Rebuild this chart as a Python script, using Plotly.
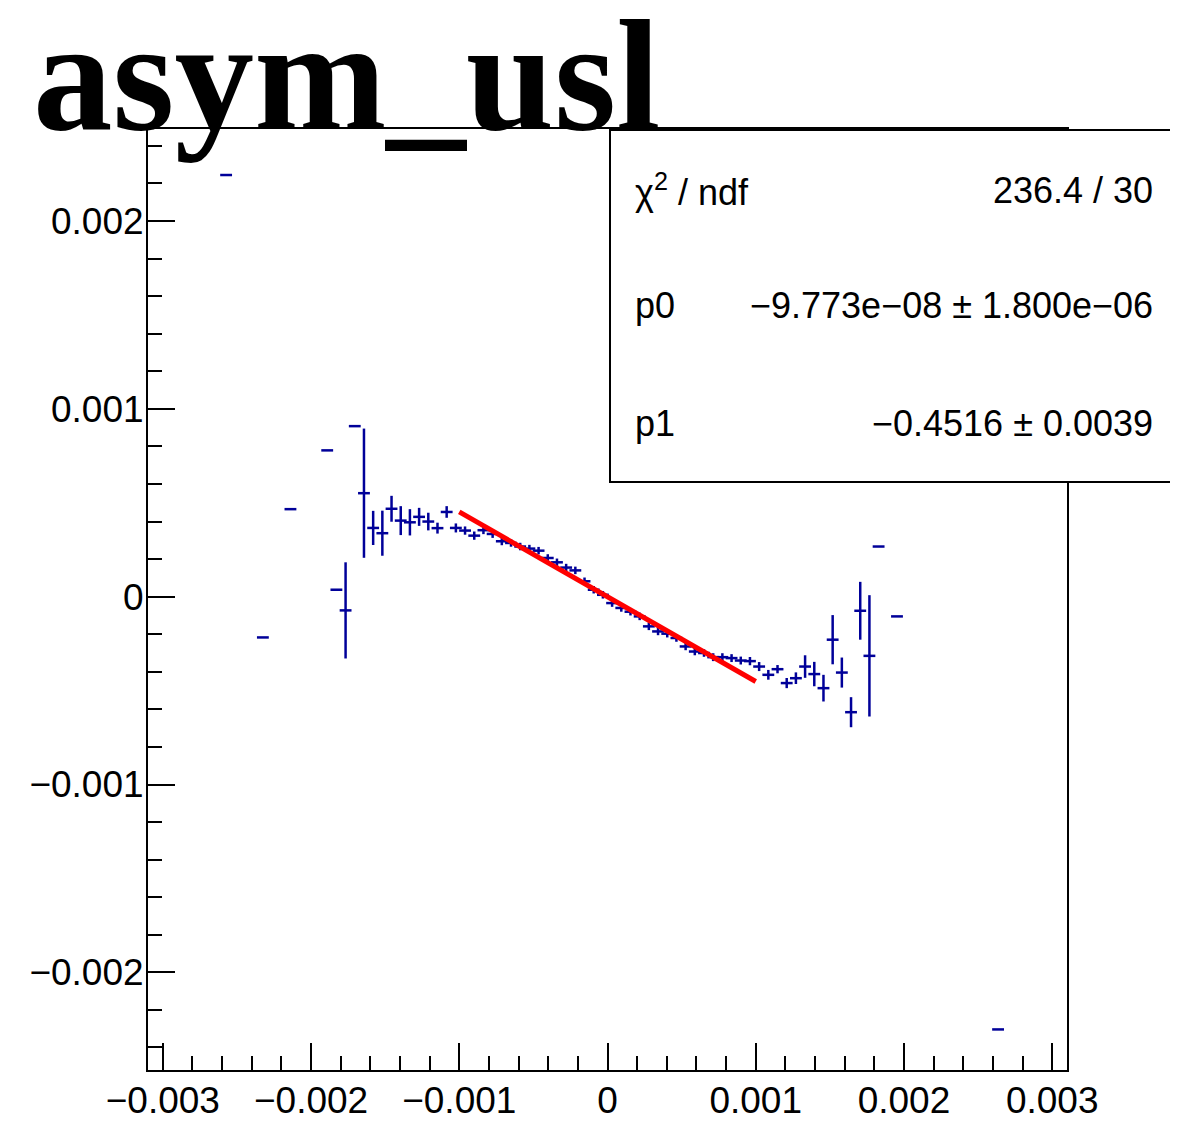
import plotly.graph_objects as go

# ------------------------------------------------------------------ #
# Data (bin centres, contents, errors)
# ------------------------------------------------------------------ #
BIN_X = [
    -0.002573, -0.002325, -0.002139, -0.001891, -0.001829, -0.001767,
    -0.001705, -0.001643, -0.001581, -0.001519, -0.001457, -0.001395,
    -0.001333, -0.001271, -0.001209, -0.001147, -0.001085, -0.001023,
    -0.000961, -0.000899, -0.000837, -0.000775, -0.000713, -0.000651,
    -0.000589, -0.000527, -0.000465, -0.000403, -0.000341, -0.000279,
    -0.000217, -0.000155, -0.000093, -0.000031, 0.000031, 0.000093,
    0.000155, 0.000217, 0.000279, 0.000341, 0.000403, 0.000465,
    0.000527, 0.000589, 0.000651, 0.000713, 0.000775, 0.000837,
    0.000899, 0.000961, 0.001023, 0.001085, 0.001147, 0.001209,
    0.001271, 0.001333, 0.001395, 0.001457, 0.001519, 0.001581,
    0.001643, 0.001705, 0.001767, 0.001829, 0.001953, 0.002635,
]
BIN_Y = [
    0.002245, -0.000217, 0.000466, 0.000779, 0.000037, -0.000073,
    0.000908, 0.000551, 0.000366, 0.000338, 0.000468, 0.000405,
    0.000396, 0.000425, 0.000400, 0.000365, 0.000451, 0.000366,
    0.000352, 0.000325, 0.000354, 0.000334, 0.000295, 0.000286,
    0.000267, 0.000256, 0.000245, 0.000206, 0.000183, 0.000155,
    0.000140, 0.000082, 0.000037, 0.000010, -0.000034, -0.000060,
    -0.000080, -0.000105, -0.000158, -0.000185, -0.000197, -0.000220,
    -0.000265, -0.000292, -0.000300, -0.000322, -0.000322, -0.000327,
    -0.000340, -0.000343, -0.000372, -0.000416, -0.000386, -0.000460,
    -0.000434, -0.000372, -0.000412, -0.000487, -0.000229, -0.000404,
    -0.000615, -0.000075, -0.000315, 0.000267, -0.000105, -0.002304,
]
BIN_ERR = [
    0.0, 0.0, 0.0, 0.0, 0.0, 0.000256,
    0.0, 0.000344, 0.000091, 0.000120, 0.000069, 0.000077,
    0.000070, 0.000048, 0.000047, 0.000029, 0.000031, 0.000024,
    0.000022, 0.000022, 0.000021, 0.000021, 0.000021, 0.000020,
    0.000020, 0.000020, 0.000020, 0.000020, 0.000020, 0.000020,
    0.000020, 0.000020, 0.000020, 0.000020, 0.000020, 0.000020,
    0.000020, 0.000020, 0.000020, 0.000020, 0.000020, 0.000020,
    0.000020, 0.000020, 0.000020, 0.000021, 0.000021, 0.000021,
    0.000021, 0.000022, 0.000024, 0.000026, 0.000022, 0.000027,
    0.000031, 0.000060, 0.000065, 0.000071, 0.000131, 0.000080,
    0.000080, 0.000154, 0.000323, 0.0, 0.0, 0.0,
]

FIT_RANGE = [-0.001, 0.001]
P0 = -9.773e-08
P1 = -0.4516

STATS_ROWS = [
    ("χ<sup>2</sup> / ndf", "236.4 / 30"),
    ("p0", "−9.773e−08 ± 1.800e−06"),
    ("p1", "−0.4516 ± 0.0039"),
]

X_RANGE = [-0.0031, 0.0031]
Y_RANGE = [-0.00252, 0.00249]

# ------------------------------------------------------------------ #
# Style tokens
# ------------------------------------------------------------------ #
PAGE_PAD = 8                     # browser body margin
W, H = 1178 - PAGE_PAD, 1124 - PAGE_PAD
FRAME = dict(l=148, r=1067, t=129, b=1070)   # page pixels
BAR_HALF = 0.000040              # drawn half-length of the horizontal bin bars
NAVY = "#000099"
RED = "#FF0000"
INK = "#000000"
SANS = "Liberation Sans, Arial, sans-serif"
SERIF = "Liberation Serif, Times New Roman, serif"


def px_x(p):
    return (p - FRAME["l"]) / (FRAME["r"] - FRAME["l"])


def px_y(p):
    return (FRAME["b"] - p) / (FRAME["b"] - FRAME["t"])


fig = go.Figure()

fig.add_trace(go.Scatter(
    x=BIN_X, y=BIN_Y, mode="markers",
    marker=dict(size=1, color=NAVY, opacity=0),
    error_y=dict(type="data", array=BIN_ERR, visible=True,
                 thickness=2.5, width=0, color=NAVY),
    error_x=dict(type="constant", value=BAR_HALF, visible=True,
                 thickness=2.5, width=0, color=NAVY),
    hoverinfo="skip", showlegend=False,
))

fig.add_trace(go.Scatter(
    x=FIT_RANGE, y=[P0 + P1 * v for v in FIT_RANGE], mode="lines",
    line=dict(color=RED, width=5),
    hoverinfo="skip", showlegend=False,
))

axis_kw = dict(
    showline=True, linecolor=INK, linewidth=2, mirror=True,
    showgrid=False, zeroline=False, automargin=False,
    ticks="inside", ticklen=27, tickwidth=2, tickcolor=INK,
    dtick=0.001, tick0=0,
    minor=dict(ticks="inside", ticklen=14, tickwidth=2, tickcolor=INK, dtick=0.0002),
    tickfont=dict(family=SANS, size=37, color=INK),
)

fig.update_layout(
    width=W, height=H,
    margin=dict(l=FRAME["l"] - PAGE_PAD, r=W - (FRAME["r"] - PAGE_PAD),
                t=FRAME["t"] - PAGE_PAD, b=H - (FRAME["b"] - PAGE_PAD)),
    paper_bgcolor="white", plot_bgcolor="white",
    xaxis=dict(range=X_RANGE, ticklabelstandoff=-3, **axis_kw),
    yaxis=dict(range=Y_RANGE, ticklabelstandoff=-5, **axis_kw),
)

# stats box (sticks out past the right edge like the ROOT canvas)
fig.add_shape(type="rect", xref="paper", yref="paper",
              x0=px_x(610), x1=px_x(1200), y0=px_y(482), y1=px_y(130),
              fillcolor="white", line=dict(color=INK, width=2), layer="above")

for (label, value), yc in zip(STATS_ROWS, [190, 305, 423]):
    fig.add_annotation(xref="paper", yref="paper", x=px_x(633), y=px_y(yc),
                       text=label, showarrow=False, xanchor="left", yanchor="middle",
                       font=dict(family=SANS, size=36, color=INK))
    fig.add_annotation(xref="paper", yref="paper", x=px_x(1155), y=px_y(yc),
                       text=value, showarrow=False, xanchor="right", yanchor="middle",
                       font=dict(family=SANS, size=36, color=INK))

# big histogram title
fig.add_annotation(xref="paper", yref="paper", x=px_x(31), y=px_y(165),
                   text="<b>asym_usl</b>", showarrow=False,
                   xanchor="left", yanchor="bottom",
                   font=dict(family=SERIF, size=159, color=INK))

fig.write_html("out.html", config=dict(displayModeBar=False))
